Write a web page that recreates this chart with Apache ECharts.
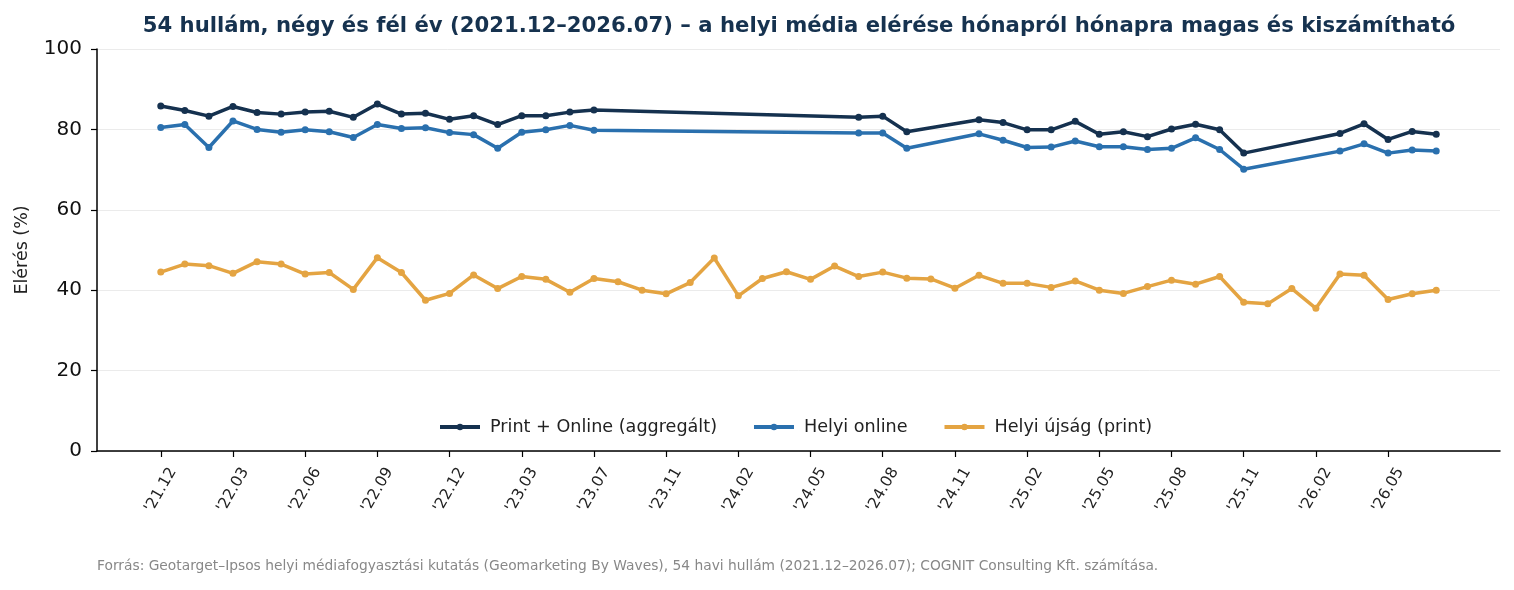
<!DOCTYPE html>
<html>
<head>
<meta charset="utf-8">
<script src="https://cdn.jsdelivr.net/npm/echarts@6/dist/echarts.min.js"></script>
<style>
html,body{margin:0;padding:0;background:#fff;}
#chart{width:1514px;height:590px;}
</style>
</head>
<body>
<div id="chart"></div>
<script>
// Tick labels (every third wave)
var tickLabels = ["'21.12","'22.03","'22.06","'22.09","'22.12","'23.03","'23.07","'23.11","'24.02","'24.05","'24.08","'24.11","'25.02","'25.05","'25.08","'25.11","'26.02","'26.05"];
var tickStep = 3;
var waveCount = 54;

var aggregated = [85.8,84.7,83.3,85.7,84.2,83.8,84.3,84.5,83.0,86.3,83.8,84.0,82.5,83.4,81.2,83.4,83.4,84.3,84.8,
  null,null,null,null,null,null,null,null,null,null,
  83.0,83.3,79.4,null,null,
  82.4,81.7,79.9,79.9,82.0,78.8,79.4,78.2,80.1,81.3,79.9,74.1,
  null,null,null,
  79.0,81.4,77.5,79.5,78.8];
var online = [80.5,81.2,75.5,82.1,80.0,79.3,79.9,79.4,78.0,81.2,80.2,80.4,79.2,78.7,75.3,79.3,79.9,81.0,79.8,
  null,null,null,null,null,null,null,null,null,null,
  79.1,79.1,75.3,null,null,
  78.9,77.3,75.5,75.6,77.1,75.7,75.7,75.0,75.3,77.9,75.0,70.1,
  null,null,null,
  74.6,76.4,74.1,74.9,74.6];
var printPaper = [44.5,46.5,46.1,44.2,47.1,46.5,44.0,44.4,40.2,48.1,
  44.4,37.5,39.2,43.8,40.4,43.4,42.7,39.5,42.9,42.1,
  40.0,39.1,41.9,48.0,38.6,42.9,44.6,42.7,46.0,43.4,
  44.5,43.0,42.8,40.5,43.7,41.7,41.7,40.7,42.3,40.0,
  39.2,40.9,42.5,41.5,43.4,37.0,36.6,40.4,35.5,44.0,
  43.7,37.7,39.1,40.0];

var seriesNames = ["Print + Online (aggregált)","Helyi online","Helyi újság (print)"];
var colors = ["#15314f","#2a70ae","#e4a442"];

function pairs(arr){
  var out=[];
  for(var i=0;i<arr.length;i++){ if(arr[i]!==null) out.push([i,arr[i]]); }
  return out;
}
var tickPos = tickLabels.map(function(_,k){return k*tickStep;});
var margin = (waveCount-1)*0.05;

var chart = echarts.init(document.getElementById('chart'));
var font = "DejaVu Sans";
function mkSeries(name, data, color){
  return {
    name:name, type:'line', data:pairs(data),
    symbol:'circle', symbolSize:7, showSymbol:true,
    lineStyle:{width:3.5,color:color}, itemStyle:{color:color},
    emphasis:{disabled:true}, animation:false, z:3
  };
}
chart.setOption({
  animation:false,
  textStyle:{fontFamily:font},
  title:{
    text:"54 hullám, négy és fél év (2021.12–2026.07) – a helyi média elérése hónapról hónapra magas és kiszámítható",
    left:794, textAlign:'center', top:11,
    textStyle:{fontFamily:font,fontWeight:'bold',fontSize:21.2,color:'#16324f'}
  },
  grid:{left:97,right:14,top:49,bottom:139,containLabel:false},
  legend:{
    data:seriesNames, top:413, left:433,
    itemWidth:40, itemHeight:8, itemGap:35,
    lineStyle:{width:4},
    textStyle:{fontFamily:font,fontSize:17.6,color:'#222',padding:[0,0,0,5]}
  },
  xAxis:{
    type:'value', min:-margin, max:(waveCount-1)+margin,
    axisLine:{show:true,onZero:false,lineStyle:{color:'#000',width:1.5}},
    axisTick:{show:true,length:6,lineStyle:{color:'#000',width:1.2},customValues:tickPos},
    axisLabel:{
      customValues:tickPos, rotate:60, fontSize:15.5, color:'#222', margin:39, fontFamily:font,
      align:'center', verticalAlign:'middle',
      formatter:function(v){ var k=Math.round(v/tickStep); return tickLabels[k]||''; }
    },
    splitLine:{show:false}
  },
  yAxis:{
    type:'value', min:0, max:100, interval:20,
    name:'Elérés (%)', nameLocation:'middle', nameGap:66, nameRotate:90,
    nameTextStyle:{fontFamily:font,fontSize:17.5,color:'#222'},
    axisLine:{show:true,onZero:false,lineStyle:{color:'#000',width:1.5}},
    axisTick:{show:true,length:6,lineStyle:{color:'#000',width:1.2}},
    axisLabel:{fontSize:20,color:'#111',margin:15,fontFamily:font},
    splitLine:{show:true,lineStyle:{color:'#ebebeb',width:1}}
  },
  graphic:[{
    type:'text', left:97, top:559,
    style:{text:"Forrás: Geotarget–Ipsos helyi médiafogyasztási kutatás (Geomarketing By Waves), 54 havi hullám (2021.12–2026.07); COGNIT Consulting Kft. számítása.",
      fontFamily:font,fontSize:13.8,fill:'#888'}
  }],
  series:[
    mkSeries(seriesNames[0],aggregated,colors[0]),
    mkSeries(seriesNames[1],online,colors[1]),
    mkSeries(seriesNames[2],printPaper,colors[2])
  ]
});
</script>
</body>
</html>
